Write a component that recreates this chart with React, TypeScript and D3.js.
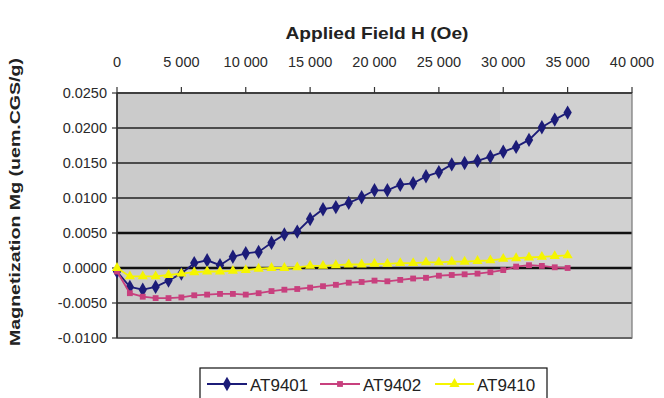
import React from "react";
import * as d3 from "d3";

const fields = [0,1000,2000,3000,4000,5000,6000,7000,8000,9000,10000,11000,12000,13000,14000,15000,16000,17000,18000,19000,20000,21000,22000,23000,24000,25000,26000,27000,28000,29000,30000,31000,32000,33000,34000,35000];
const at9401 = [-0.0005,-0.0027,-0.0031,-0.0027,-0.0018,-0.0008,0.0007,0.0011,0.0004,0.0016,0.0021,0.0023,0.0036,0.0048,0.0052,0.0070,0.0084,0.0087,0.0093,0.0101,0.0111,0.0111,0.0119,0.0121,0.0131,0.0137,0.0148,0.0150,0.0153,0.0159,0.0166,0.0173,0.0183,0.0201,0.0212,0.0222];
const at9402 = [-0.0005,-0.0036,-0.0041,-0.0043,-0.0043,-0.0042,-0.0039,-0.0038,-0.0037,-0.0037,-0.0038,-0.0036,-0.0033,-0.0031,-0.0030,-0.0028,-0.0026,-0.0024,-0.0021,-0.0020,-0.0018,-0.0019,-0.0017,-0.0015,-0.0014,-0.0011,-0.0010,-0.0009,-0.0008,-0.0006,-0.0003,0.0002,0.0004,0.0003,0.0001,0.0000];
const at9410 = [0.0000,-0.0012,-0.0012,-0.0012,-0.0010,-0.0008,-0.0006,-0.0005,-0.0005,-0.0004,-0.0003,-0.0001,0.0000,0.0000,0.0001,0.0003,0.0003,0.0004,0.0005,0.0005,0.0006,0.0006,0.0007,0.0007,0.0008,0.0008,0.0009,0.0009,0.0010,0.0011,0.0013,0.0014,0.0015,0.0016,0.0017,0.0018];
const seriesNames = ["AT9401", "AT9402", "AT9410"];
const xTicks = [0,5000,10000,15000,20000,25000,30000,35000,40000];
const yTicks = [0.025,0.02,0.015,0.01,0.005,0,-0.005,-0.01];
const xTitle = "Applied Field H (Oe)";
const yTitle = "Magnetization Mg (uem.CGS/g)";

const colors = ["#1c1c78", "#c8407e", "#f5f500"];
const symbols = [d3.symbolDiamond, d3.symbolSquare, d3.symbolTriangle];
const symSizes = [60, 34, 45];

export default function App() {
  const W = 664, H = 398;
  const x = d3.scaleLinear().domain([0, 40000]).range([117, 632]);
  const y = d3.scaleLinear().domain([-0.01, 0.025]).range([338, 93]);
  const data = [at9401, at9402, at9410];
  const fmtX = (v: number) => (v === 0 ? "0" : d3.format(",")(v).replace(",", " "));
  const fmtY = (v: number) => d3.format(".4f")(v).replace("−", "-");
  const line = d3.line<number>().x((_, i) => x(fields[i])).y((d) => y(d));
  const legendItems = [
    { x0: 207, x1: 247, tx: 250 },
    { x0: 320, x1: 360, tx: 363 },
    { x0: 435, x1: 474, tx: 477 },
  ];
  const font = "'Liberation Sans', Arial, sans-serif";
  return (
    <svg width={W} height={H} style={{ position: "absolute", left: 0, top: 0, background: "#fff" }} fontFamily={font}>
      <rect x={0} y={0} width={W} height={H} fill="#fff" />
      <rect x={117} y={93} width={515} height={245} fill="#cbcbcb" />
      <rect x={500} y={93} width={132} height={245} fill="#d1d1d1" />
      {yTicks.map((t) => (
        <line key={"g" + t} x1={117} x2={632} y1={y(t)} y2={y(t)}
          stroke={t === 0 || t === 0.005 ? "#111" : "#4c4c4c"}
          strokeWidth={t === 0 || t === 0.005 ? 2.6 : 1.8} />
      ))}
      <rect x={117} y={93} width={515} height={245} fill="none" stroke="#777" strokeWidth={1.2} />
      <line x1={117} x2={117} y1={93} y2={338} stroke="#222" strokeWidth={1.5} />
      <line x1={117} x2={632} y1={93} y2={93} stroke="#333" strokeWidth={1.5} />
      {xTicks.map((t) => (
        <g key={"x" + t}>
          <line x1={x(t)} x2={x(t)} y1={93} y2={87} stroke="#333" strokeWidth={1.2} />
          <text x={x(t)} y={67} fontSize={14.5} textAnchor="middle" fill="#2a2a2a">{fmtX(t)}</text>
        </g>
      ))}
      {yTicks.map((t) => (
        <g key={"y" + t}>
          <line x1={112} x2={117} y1={y(t)} y2={y(t)} stroke="#333" strokeWidth={1.2} />
          <text x={107} y={y(t) + 5} fontSize={14.5} textAnchor="end" fill="#2a2a2a">{fmtY(t)}</text>
        </g>
      ))}
      <text x={377} y={39} fontSize={17} fontWeight="bold" textAnchor="middle" fill="#222"
        textLength={183} lengthAdjust="spacingAndGlyphs">{xTitle}</text>
      <text transform={`translate(20,202) rotate(-90)`} fontSize={15.5} fontWeight="bold" textAnchor="middle" fill="#222"
        textLength={288} lengthAdjust="spacingAndGlyphs">{yTitle}</text>
      {data.map((s, k) => (
        <g key={"s" + k}>
          <path d={line(s) || ""} fill="none" stroke={colors[k]} strokeWidth={1.8} />
          {s.map((v, i) => (
            <path key={i} d={d3.symbol().type(symbols[k]).size(symSizes[k])() || ""}
              transform={`translate(${x(fields[i])},${y(v)})`} fill={colors[k]} />
          ))}
        </g>
      ))}
      <rect x={200} y={368} width={347} height={32} fill="#fff" stroke="#111" strokeWidth={1.2} />
      {legendItems.map((it, k) => (
        <g key={"l" + k}>
          <line x1={it.x0} x2={it.x1} y1={384} y2={384} stroke={colors[k]} strokeWidth={1.8} />
          <path d={d3.symbol().type(symbols[k]).size(symSizes[k])() || ""}
            transform={`translate(${(it.x0 + it.x1) / 2},384)`} fill={colors[k]} />
          <text x={it.tx} y={391} fontSize={17} fill="#222">{seriesNames[k]}</text>
        </g>
      ))}
    </svg>
  );
}
